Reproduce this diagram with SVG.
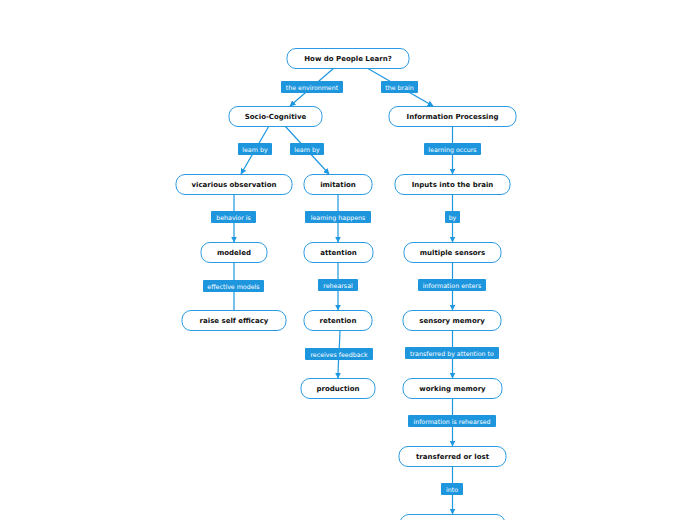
<svg xmlns="http://www.w3.org/2000/svg" width="696" height="520" viewBox="0 0 696 520">
<defs>
<marker id="arr" viewBox="0 0 10 10" refX="9" refY="5" markerWidth="6" markerHeight="6" markerUnits="userSpaceOnUse" orient="auto">
<path d="M0,0 L10,5 L0,10 z" fill="#1f97e0"/>
</marker>
<style>
.n rect{fill:#fff;stroke:#2a9ae2;stroke-width:1}
.n text{font-family:"DejaVu Sans",Verdana,sans-serif;font-weight:bold;font-size:7px;fill:#111;text-anchor:middle;dominant-baseline:central}
.c path{fill:none;stroke:#1f97e0;stroke-width:1.2}
.l rect{fill:#1d96de}
.l text{font-family:"DejaVu Sans",Verdana,sans-serif;font-size:6.3px;fill:#fff;text-anchor:middle;dominant-baseline:central}
</style>
</defs>
<rect width="696" height="520" fill="#fff"/>
<g class="c">
<path d="M334,68 L290,106" marker-end="url(#arr)"/>
<path d="M367,68 L433,106" marker-end="url(#arr)"/>
<path d="M269,126 L241,174" marker-end="url(#arr)"/>
<path d="M285,126 L329,174" marker-end="url(#arr)"/>
<path d="M452.5,126 L452.5,174" marker-end="url(#arr)"/>
<path d="M234,194 L234,242" marker-end="url(#arr)"/>
<path d="M338,194 L338,242" marker-end="url(#arr)"/>
<path d="M452.5,194 L452.5,242" marker-end="url(#arr)"/>
<path d="M234,262 L234,311"/>
<path d="M338,262 L338,310" marker-end="url(#arr)"/>
<path d="M452.5,262 L452.5,310" marker-end="url(#arr)"/>
<path d="M340,330 C339.5,350 338,362 338,378" marker-end="url(#arr)"/>
<path d="M452.5,330 L452.5,378" marker-end="url(#arr)"/>
<path d="M452.5,398 L452.5,446" marker-end="url(#arr)"/>
<path d="M452.5,466 L452.5,514" marker-end="url(#arr)"/>
</g>
<g class="l">
<g id="l1"><rect x="281" y="81" width="62" height="12" rx="1"/><text x="312" y="87">the environment</text></g>
<g id="l2"><rect x="381" y="81" width="37" height="12" rx="1"/><text x="399.5" y="87">the brain</text></g>
<g id="l3"><rect x="238" y="143" width="34" height="12" rx="1"/><text x="255" y="149">learn by</text></g>
<g id="l4"><rect x="290" y="143" width="34" height="12" rx="1"/><text x="307" y="149">learn by</text></g>
<g id="l5"><rect x="424" y="143" width="57" height="12" rx="1"/><text x="452.5" y="149">learning occurs</text></g>
<g id="l6"><rect x="211" y="211" width="45" height="12" rx="1"/><text x="233.5" y="217">behavior is</text></g>
<g id="l7"><rect x="305" y="211" width="66" height="12" rx="1"/><text x="338" y="217">learning happens</text></g>
<g id="l8"><rect x="445" y="211" width="15" height="12" rx="1"/><text x="452.5" y="217">by</text></g>
<g id="l9"><rect x="203" y="280" width="61" height="12" rx="1"/><text x="233.5" y="286">effective models</text></g>
<g id="l10"><rect x="318" y="279" width="40" height="12" rx="1"/><text x="338" y="285">rehearsal</text></g>
<g id="l11"><rect x="418" y="279" width="68" height="12" rx="1"/><text x="452" y="285">information enters</text></g>
<g id="l12"><rect x="305" y="348" width="68" height="12" rx="1"/><text x="339" y="354">receives feedback</text></g>
<g id="l13"><rect x="405" y="347" width="94" height="12" rx="1"/><text x="452" y="353">transferred by attention to</text></g>
<g id="l14"><rect x="408" y="415" width="88" height="12" rx="1"/><text x="452" y="421">information is rehearsed</text></g>
<g id="l15"><rect x="441" y="483" width="22" height="12" rx="1"/><text x="452" y="489">into</text></g>
</g>
<g class="n">
<g id="root"><rect x="287" y="48.5" width="122" height="20" rx="9"/><text x="348" y="58.5">How do People Learn?</text></g>
<g id="socio"><rect x="229" y="106.5" width="93" height="20" rx="9"/><text x="275.5" y="116.5">Socio-Cognitive</text></g>
<g id="infoproc"><rect x="389" y="106.5" width="127" height="20" rx="9"/><text x="452.5" y="116.5">Information Processing</text></g>
<g id="vicarious"><rect x="176" y="174.5" width="116" height="20" rx="9"/><text x="234" y="184.5">vicarious observation</text></g>
<g id="imitation"><rect x="304" y="174.5" width="68" height="20" rx="9"/><text x="338" y="184.5">imitation</text></g>
<g id="inputs"><rect x="395" y="174.5" width="115" height="20" rx="9"/><text x="452.5" y="184.5">Inputs into the brain</text></g>
<g id="modeled"><rect x="201" y="242.5" width="66" height="20" rx="9"/><text x="234" y="252.5">modeled</text></g>
<g id="attention"><rect x="304" y="242.5" width="69" height="20" rx="9"/><text x="338.5" y="252.5">attention</text></g>
<g id="sensors"><rect x="404" y="242.5" width="97" height="20" rx="9"/><text x="452.5" y="252.5">multiple sensors</text></g>
<g id="efficacy"><rect x="182" y="310.5" width="104" height="20" rx="9"/><text x="234" y="320.5">raise self efficacy</text></g>
<g id="retention"><rect x="304" y="310.5" width="68" height="20" rx="9"/><text x="338" y="320.5">retention</text></g>
<g id="sensory"><rect x="403" y="310.5" width="98" height="20" rx="9"/><text x="452" y="320.5">sensory memory</text></g>
<g id="production"><rect x="301" y="378.5" width="74" height="20" rx="9"/><text x="338" y="388.5">production</text></g>
<g id="working"><rect x="403" y="378.5" width="99" height="20" rx="9"/><text x="452.5" y="388.5">working memory</text></g>
<g id="transferred"><rect x="399" y="446.5" width="107" height="20" rx="9"/><text x="452.5" y="456.5">transferred or lost</text></g>
<g id="bottom"><rect x="400" y="514.5" width="105" height="20" rx="9"/></g>
</g>
</svg>
